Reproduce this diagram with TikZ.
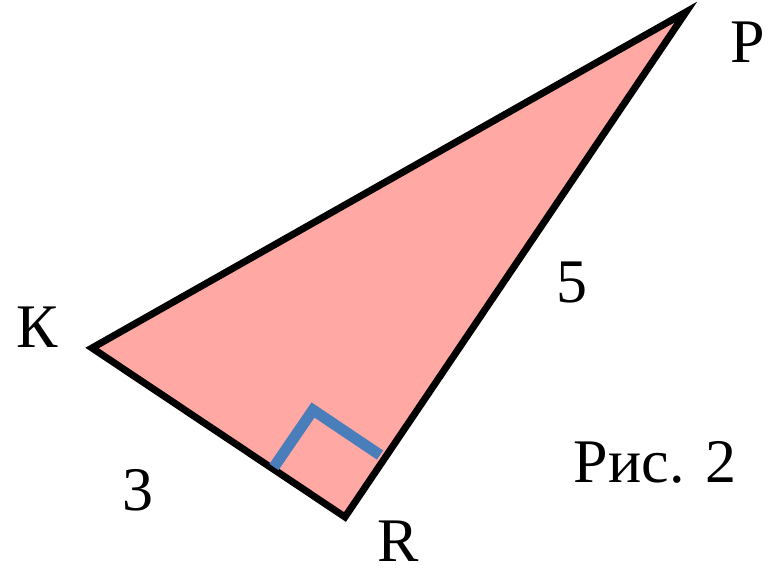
\documentclass[tikz,border=0pt]{standalone}
\usepackage{fontspec}
\setmainfont{Liberation Serif}
\usetikzlibrary{positioning}
\definecolor{trifill}{RGB}{255,168,164}
\definecolor{markblue}{RGB}{74,126,187}
\tikzset{
  side/.style={draw=black,line width=7pt,line join=miter,fill=trifill},
  rightmark/.style={draw=markblue,line width=11pt},
  lab/.style={font=\fontsize{62}{74}\selectfont,inner sep=0pt},
}
\begin{document}
\begin{tikzpicture}[x=1pt,y=-1pt]
  \path[use as bounding box] (0,0) rectangle (772,573);
  % vertices
  \coordinate (K) at (92,348);
  \coordinate (R) at (345,517);
  \coordinate (P) at (686,12);
  \draw[side] (K) -- (R) -- (P) -- cycle;

  % right angle at R
  \coordinate (M1) at (274,467);
  \coordinate (M2) at (313,410);
  \coordinate (M3) at (380,455);
  \draw[rightmark] (M1) -- (M2) -- (M3);

  \node[lab] (labK) at (37,327) {К};
  \node[lab] (labP) at (748,42) {Р};
  \node[lab] (labR) at (398,541) {R};
  \node[lab] (labKR) at (138,490) {3};
  \node[lab] (labRP) at (572,283) {5};
  \node[lab] (caption) at (655,462) {Рис. 2};
\end{tikzpicture}
\end{document}
